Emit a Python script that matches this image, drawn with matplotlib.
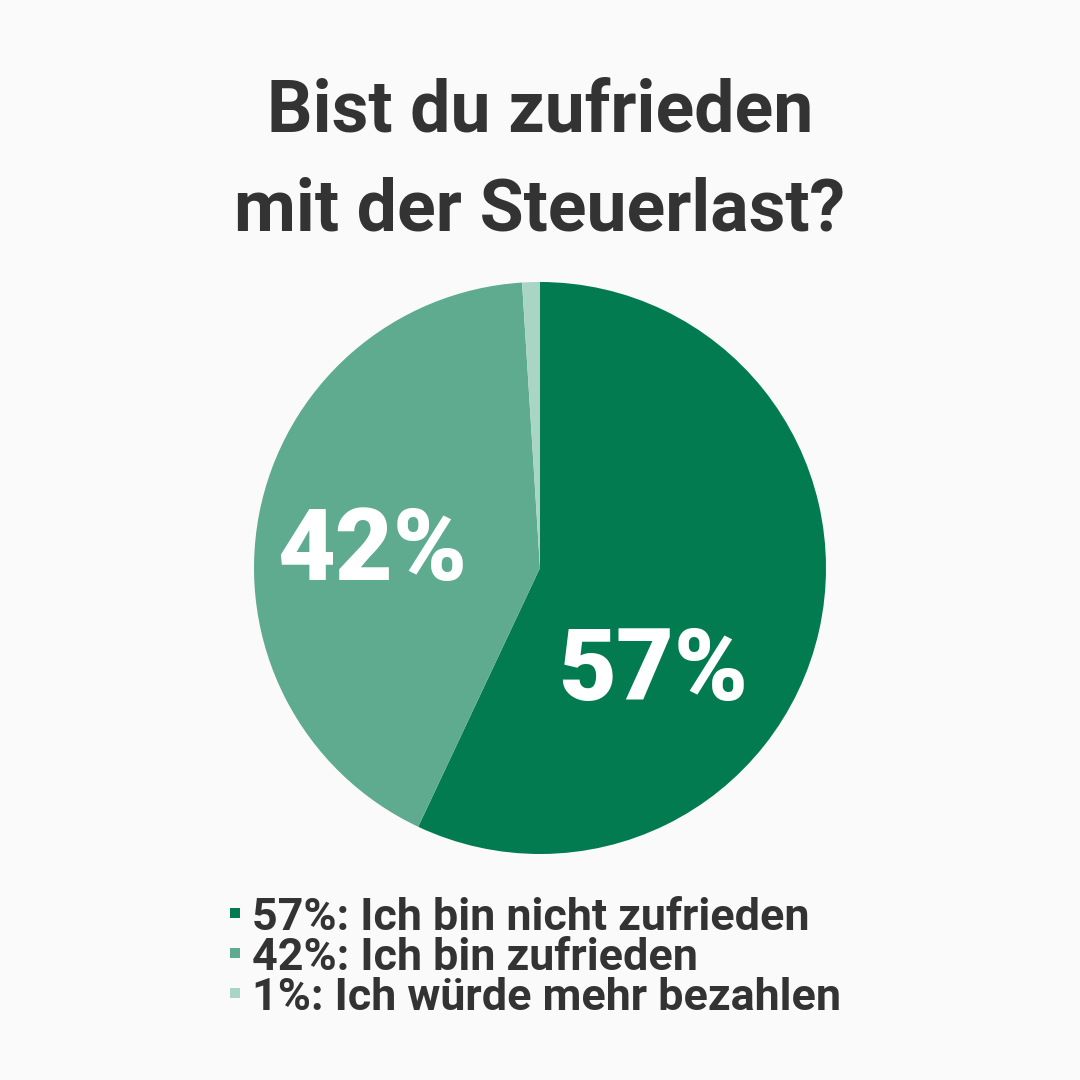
import matplotlib.pyplot as plt
from matplotlib.patches import Rectangle

plt.rcParams['font.family'] = ['Roboto', 'DejaVu Sans']

title_lines = ["Bist du zufrieden", "mit der Steuerlast?"]
shares = [57, 42, 1]
answers = ["Ich bin nicht zufrieden", "Ich bin zufrieden", "Ich würde mehr bezahlen"]
colors = ["#027B50", "#5EAB8F", "#A9D5C5"]
# label positions inside the pie (radius units), only first two are shown
label_pos = [(0.395, -0.462), (-0.587, -0.042)]

bg = "#FAFAFA"
ink = "#333333"

fig = plt.figure(figsize=(10.8, 10.8), dpi=100, facecolor=bg)

ax = fig.add_axes([254 / 1080, 226 / 1080, 572 / 1080, 572 / 1080])
ax.set_facecolor(bg)
wedges, _ = ax.pie(shares, colors=colors, startangle=90, counterclock=False,
                   radius=1, wedgeprops=dict(linewidth=0))
ax.set_xlim(-1, 1)
ax.set_ylim(-1, 1)
ax.set_aspect('equal')
ax.axis('off')

for (x, y), s in zip(label_pos, shares):
    ax.text(x, y, f"{s}%", color="white", fontsize=72, fontweight='black',
            ha='center', va='baseline')

# title
fig.text(0.5, 1 - 132 / 1080, title_lines[0], ha='center', va='baseline',
         fontsize=51.5, fontweight='bold', color=ink)
fig.text(0.5, 1 - 230 / 1080, title_lines[1], ha='center', va='baseline',
         fontsize=51.5, fontweight='bold', color=ink)

# legend
for i, (s, a, c) in enumerate(zip(shares, answers, colors)):
    base = 930 + 40 * i
    fig.patches.append(Rectangle((230 / 1080, 1 - (base - 12) / 1080), 10 / 1080, 10 / 1080,
                                 transform=fig.transFigure, facecolor=c, edgecolor='none'))
    fig.text(252 / 1080, 1 - base / 1080, f"{s}%: {a}", ha='left', va='baseline',
             fontsize=32.3, fontweight='bold', color=ink)

fig.savefig("out.png", dpi=100, facecolor=bg)
